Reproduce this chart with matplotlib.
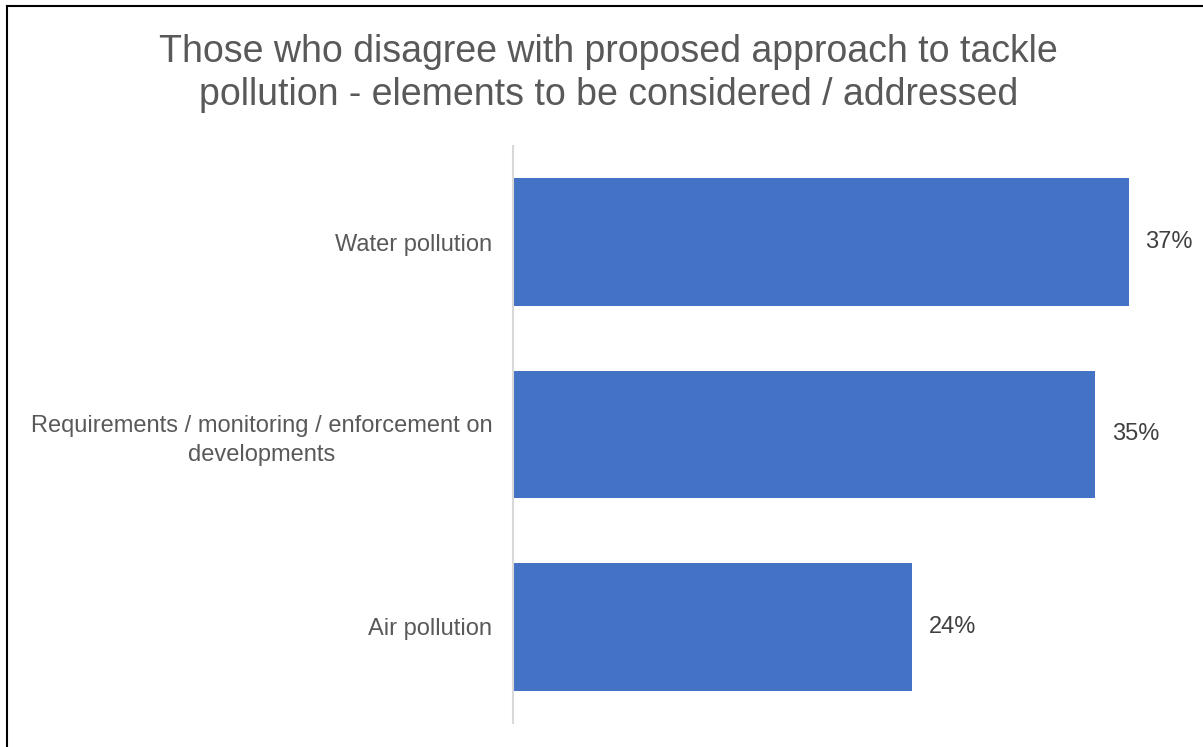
import matplotlib.pyplot as plt
from matplotlib.lines import Line2D

# --- data ---
categories = ['Water pollution',
              'Requirements / monitoring / enforcement on\ndevelopments',
              'Air pollution']
values = [37, 35, 24]
value_labels = ['37%', '35%', '24%']

title = ('Those who disagree with proposed approach to tackle\n'
         'pollution - elements to be considered / addressed')

bar_color = '#4472C4'
text_color = '#595959'

plt.rcParams['font.family'] = ['Liberation Sans', 'DejaVu Sans']

fig = plt.figure(figsize=(12.03, 7.47), dpi=100)
ax = fig.add_axes([0.4264, 0.0321, 0.5533, 0.7725])

y = list(range(len(categories)))
ax.barh(y, values, height=0.665, color=bar_color)
ax.set_xlim(0, 40)
ax.set_ylim(len(categories) - 0.5, -0.5)

for yi, v, lab in zip(y, values, value_labels):
    ax.annotate(lab, (v, yi), xytext=(12, 0), textcoords='offset points',
                va='center', ha='left', fontsize=17, color='#404040')

ax.set_yticks(y)
ax.set_yticklabels(categories, fontsize=17, color=text_color,
                   multialignment='center', linespacing=1.4)
ax.tick_params(axis='y', length=0, pad=15)
ax.set_xticks([])

for s in ['top', 'right', 'bottom']:
    ax.spines[s].set_visible(False)
ax.spines['left'].set_color('#D9D9D9')
ax.spines['left'].set_linewidth(1.5)

fig.text(0.506, 0.902, title, ha='center', va='center', fontsize=27,
         color=text_color, linespacing=1.24)

# outer border (left and top edges only visible)
fig.add_artist(Line2D([0.0055, 0.0055], [0, 0.992], transform=fig.transFigure,
                      color='black', lw=1.5))
fig.add_artist(Line2D([0.0055, 1], [0.992, 0.992], transform=fig.transFigure,
                      color='black', lw=1.5))

fig.savefig('out.png', dpi=100)
